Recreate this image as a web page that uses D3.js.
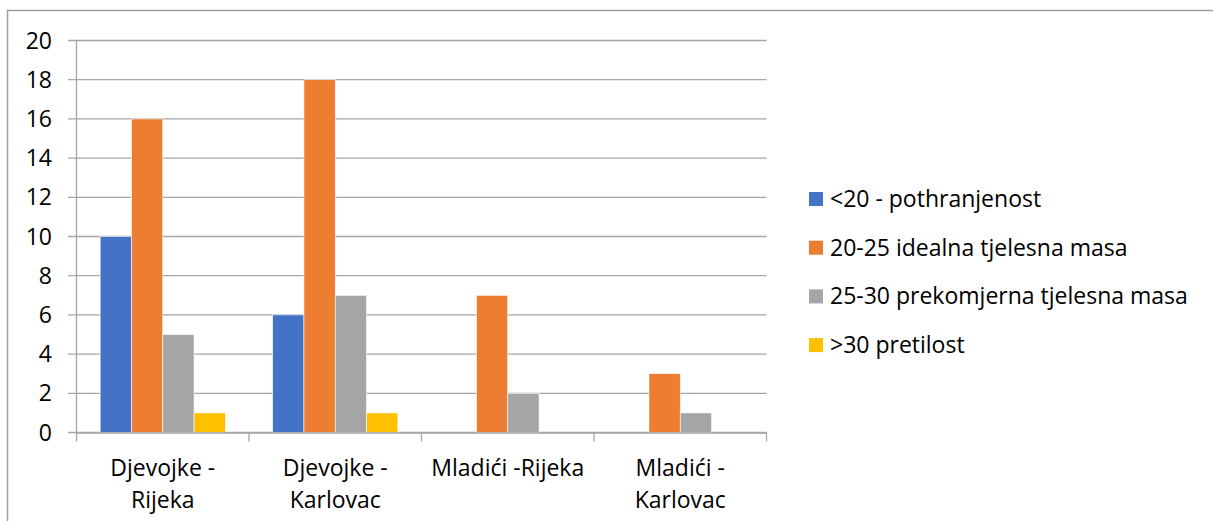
<html>
<head>
<style>
    body { margin: 0; background: #fff; }
    text { font-family: "Open Sans", sans-serif; fill: #000; }
</style>
</head>
<body>
    <svg id="container" height="521" width="1213">
        <g id="body"></g>
    </svg>
</body>
<script src="https://cdn.jsdelivr.net/npm/d3@7"></script>
<script>
    // data
    let categories = ["Djevojke - Rijeka", "Djevojke - Karlovac", "Mladići -Rijeka", "Mladići - Karlovac"]
    let categoryLines = [["Djevojke -", "Rijeka"], ["Djevojke -", "Karlovac"], ["Mladići -Rijeka"], ["Mladići -", "Karlovac"]]
    let seriesNames = ["<20 - pothranjenost", "20-25 idealna tjelesna masa", "25-30 prekomjerna tjelesna masa", ">30 pretilost"]
    let seriesColors = ["#4472c4", "#ed7d31", "#a5a5a5", "#ffc000"]
    let pothranjenost = [10, 6, 0, 0]
    let idealna = [16, 18, 7, 3]
    let prekomjerna = [5, 7, 2, 1]
    let pretilost = [1, 1, 0, 0]
    let yTicks = [0, 2, 4, 6, 8, 10, 12, 14, 16, 18, 20]

    let seriesValues = [pothranjenost, idealna, prekomjerna, pretilost]
    let svg = d3.select("#container")
    let body = d3.select("#body")
    let fontSize = "23px"

    // outer chart frame (only top and left visible)
    svg.append("path")
        .attr("d", "M7.5,521 L7.5,10.5 L1213,10.5")
        .attr("fill", "none")
        .attr("stroke", "#a0a0a0")
        .attr("stroke-width", 1.5)

    let x = d3.scaleBand()
        .domain(categories)
        .range([76.5, 766.5])
        .paddingInner(0)
        .paddingOuter(0)

    let xInner = d3.scaleBand()
        .domain(seriesNames)
        .range([0, x.bandwidth()])
        .paddingInner(0)
        .paddingOuter(0.755)

    let y = d3.scaleLinear()
        .domain([0, 20])
        .range([432.5, 40.5])

    // gridlines
    body.selectAll(".grid")
        .data(yTicks)
        .enter().append("line")
        .attr("x1", 68)
        .attr("x2", 766.5)
        .attr("y1", d => y(d))
        .attr("y2", d => y(d))
        .attr("stroke", "#a6a6a6")
        .attr("stroke-width", 1.3)

    // y axis line
    body.append("line")
        .attr("x1", 76.5).attr("x2", 76.5)
        .attr("y1", y(20)).attr("y2", y(0))
        .attr("stroke", "#a6a6a6")
        .attr("stroke-width", 1.3)

    // y labels
    body.selectAll(".ylab")
        .data(yTicks)
        .enter().append("text")
        .attr("x", 52)
        .attr("y", d => y(d))
        .attr("dy", "0.35em")
        .attr("text-anchor", "end")
        .style("font-size", fontSize)
        .text(d => d)

    // bars
    let groups = body.selectAll(".grp")
        .data(categories)
        .enter().append("g")
        .attr("transform", d => "translate(" + x(d) + ",0)")

    groups.selectAll("rect")
        .data((c, i) => seriesNames.map((s, j) => ({ s: s, v: seriesValues[j][i], c: seriesColors[j] })))
        .enter().append("rect")
        .attr("x", d => xInner(d.s))
        .attr("width", xInner.bandwidth())
        .attr("y", d => y(d.v))
        .attr("height", d => y(0) - y(d.v))
        .attr("fill", d => d.c)
        .attr("stroke", "#fff")
        .attr("stroke-width", 0.6)

    // x axis
    let xAxis = d3.axisBottom(x).tickSize(0).tickFormat("")
    let ax = body.append("g")
        .attr("transform", "translate(0," + y(0) + ")")
        .call(xAxis)
    ax.select(".domain").attr("stroke", "#a6a6a6").attr("stroke-width", 1.3)

    // category boundary ticks
    let bounds = categories.map(c => x(c)).concat([x.range()[1]])
    body.selectAll(".btick")
        .data(bounds)
        .enter().append("line")
        .attr("x1", d => d).attr("x2", d => d)
        .attr("y1", y(0)).attr("y2", y(0) + 9)
        .attr("stroke", "#a6a6a6")
        .attr("stroke-width", 1.3)

    // category labels
    body.selectAll(".xlab")
        .data(categories)
        .enter().append("text")
        .attr("text-anchor", "middle")
        .style("font-size", fontSize)
        .each(function (c, i) {
            let t = d3.select(this)
            categoryLines[i].forEach((line, k) => {
                t.append("tspan")
                    .attr("x", x(c) + x.bandwidth() / 2)
                    .attr("y", 476 + k * 32)
                    .text(line)
            })
        })

    // legend
    let legend = body.selectAll(".leg")
        .data(seriesNames)
        .enter().append("g")
        .attr("transform", (d, i) => "translate(809," + (199 + i * 48.7) + ")")

    legend.append("rect")
        .attr("x", 0).attr("y", -7)
        .attr("width", 14).attr("height", 14)
        .attr("fill", (d, i) => seriesColors[i])

    legend.append("text")
        .attr("x", 21)
        .attr("y", 0)
        .attr("dy", "0.35em")
        .style("font-size", fontSize)
        .text(d => d)
</script>
</html>
